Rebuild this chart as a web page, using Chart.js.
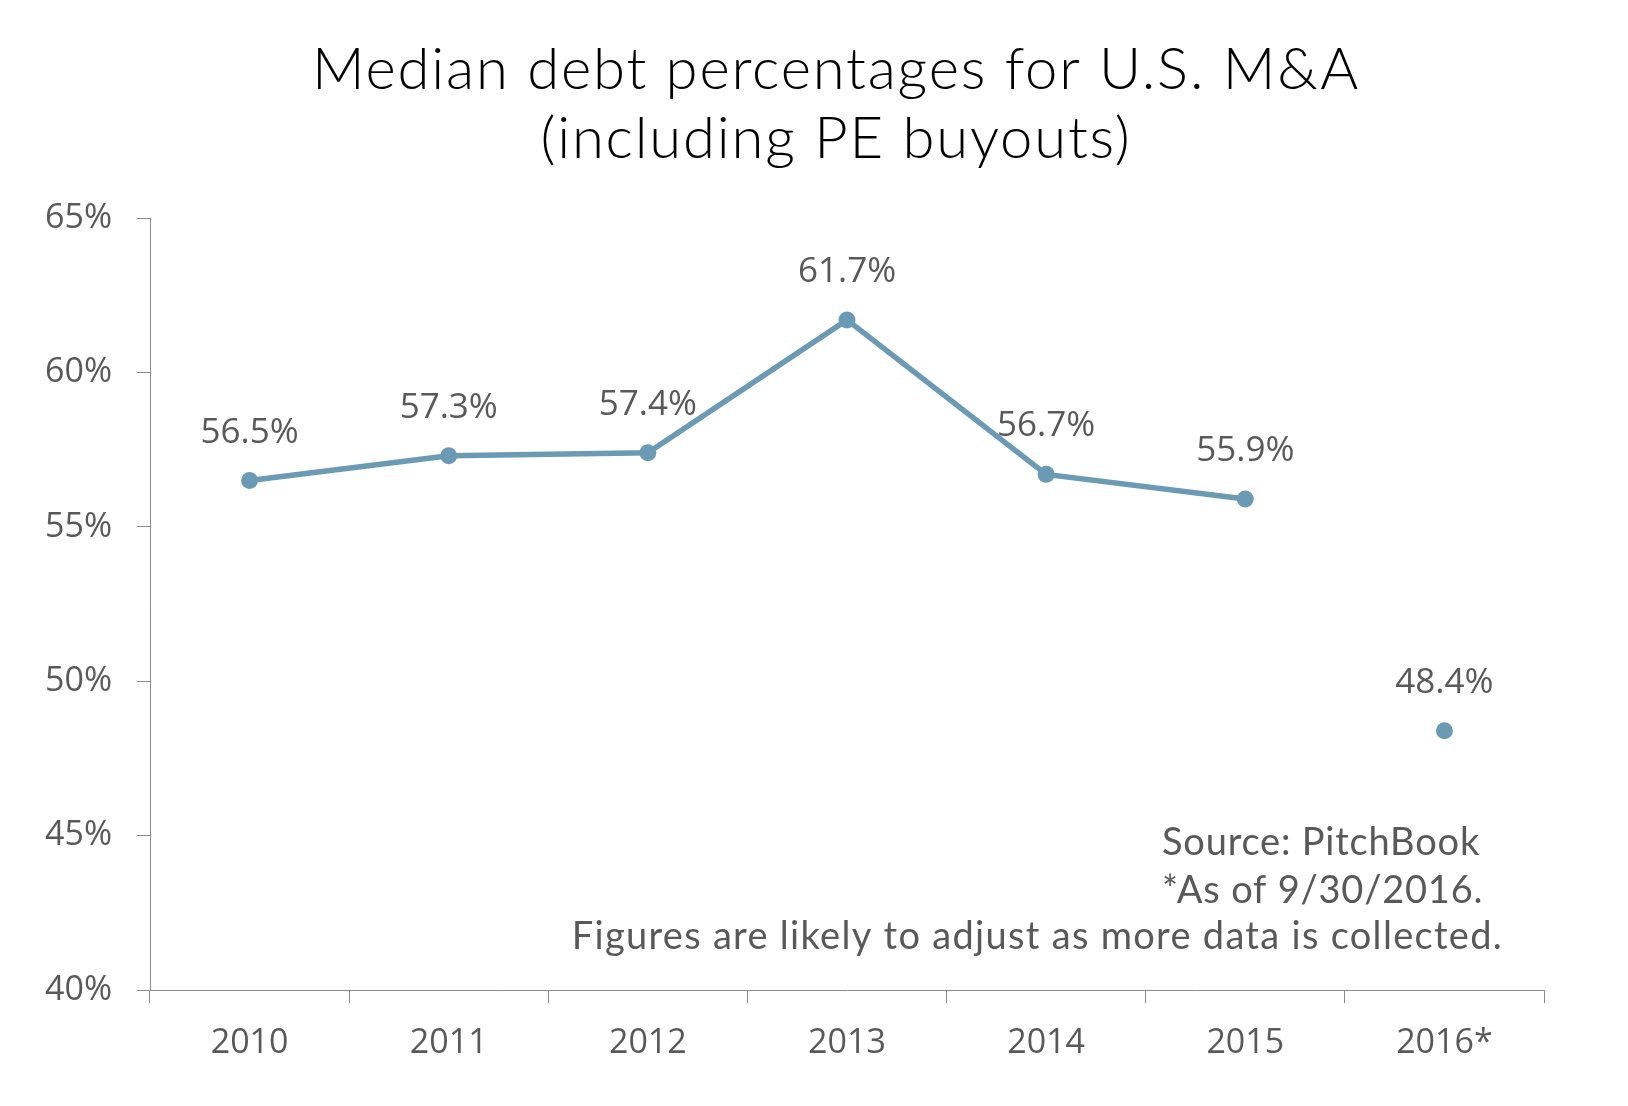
<!DOCTYPE html>
<html>
<head>
<meta charset="utf-8">
<title>Median debt percentages for U.S. M&amp;A</title>
<script src="https://cdn.jsdelivr.net/npm/chart.js@4.4.1/dist/chart.umd.min.js"></script>
<style>
  html, body { margin: 0; padding: 0; background: #fff; }
  #wrap { width: 1628px; height: 1106px; }
</style>
</head>
<body>
<div id="wrap"><canvas id="myChart"></canvas></div>
<script>
var years = ['2010', '2011', '2012', '2013', '2014', '2015', '2016*'];
var debtPct = [56.5, 57.3, 57.4, 61.7, 56.7, 55.9, 48.4];
var yTicks = [40, 45, 50, 55, 60, 65];
var titleLines = ['Median debt percentages for U.S. M&A', '(including PE buyouts)'];
var noteLines = ['Source: PitchBook', '*As of 9/30/2016.', 'Figures are likely to adjust as more data is collected.'];

var lineColor = '#6b9ab5';
var textGrey = '#595959';
var axisGrey = '#8c8c8c';

// labels above points, title and source note
var textPlugin = {
    id: 'textPlugin',
    afterDatasetsDraw: function (chart) {
        var ctx = chart.ctx;
        var meta = chart.getDatasetMeta(0);
        ctx.save();
        ctx.font = '35px "Open Sans"';
        ctx.fillStyle = textGrey;
        ctx.textAlign = 'center';
        ctx.textBaseline = 'alphabetic';
        meta.data.forEach(function (pt, i) {
            ctx.fillText(debtPct[i].toFixed(1) + '%', pt.x, pt.y - 38);
        });
        ctx.restore();
    },
    afterDraw: function (chart) {
        var ctx = chart.ctx;
        ctx.save();
        ctx.font = '300 58px Lato';
        ctx.letterSpacing = '1.8px';
        ctx.fillStyle = '#000';
        ctx.textAlign = 'center';
        ctx.fillText(titleLines[0], 836, 89);
        ctx.fillText(titleLines[1], 836, 158);

        ctx.font = '38px Lato';
        ctx.letterSpacing = '0.8px';
        ctx.fillStyle = textGrey;
        ctx.textAlign = 'left';
        ctx.fillText(noteLines[0], 1162, 855);
        ctx.fillText(noteLines[1], 1162, 903);
        ctx.letterSpacing = '1.3px';
        ctx.textAlign = 'right';
        ctx.fillText(noteLines[2], 1503, 949);
        ctx.restore();
    }
};

var ctx = document.getElementById('myChart').getContext('2d');
var myChart = new Chart(ctx, {
    type: 'line',
    data: {
        labels: years,
        datasets: [{
            label: 'Median debt %',
            data: debtPct,
            borderColor: lineColor,
            backgroundColor: lineColor,
            borderWidth: 5.5,
            pointRadius: 8.5,
            pointBorderWidth: 0,
            pointBackgroundColor: lineColor,
            tension: 0,
            segment: {
                // 2016 is partial year, shown as a lone point
                borderColor: function (c) {
                    return c.p1DataIndex === years.length - 1 ? 'rgba(0,0,0,0)' : undefined;
                }
            }
        }]
    },
    options: {
        responsive: true,
        maintainAspectRatio: false,
        animation: false,
        layout: {
            padding: { top: 218, right: 84, bottom: 22, left: 0 }
        },
        plugins: {
            legend: { display: false },
            title: { display: false },
            tooltip: { enabled: false }
        },
        scales: {
            x: {
                offset: true,
                grid: {
                    offset: true,
                    drawOnChartArea: false,
                    drawTicks: true,
                    tickLength: 13,
                    color: axisGrey
                },
                border: { color: axisGrey, width: 1 },
                ticks: {
                    padding: 20,
                    color: textGrey,
                    font: { family: '"Open Sans"', size: 34 }
                }
            },
            y: {
                min: 40,
                max: 65,
                afterBuildTicks: function (scale) {
                    scale.ticks = yTicks.map(function (v) { return { value: v }; });
                },
                afterFit: function (scale) {
                    scale.width = 150;
                },
                grid: {
                    drawOnChartArea: false,
                    drawTicks: true,
                    tickLength: 13,
                    color: axisGrey
                },
                border: { color: axisGrey, width: 1 },
                ticks: {
                    padding: 25,
                    color: textGrey,
                    font: { family: '"Open Sans"', size: 34 },
                    callback: function (v) { return v + '%'; }
                }
            }
        }
    },
    plugins: [textPlugin]
});
</script>
</body>
</html>
